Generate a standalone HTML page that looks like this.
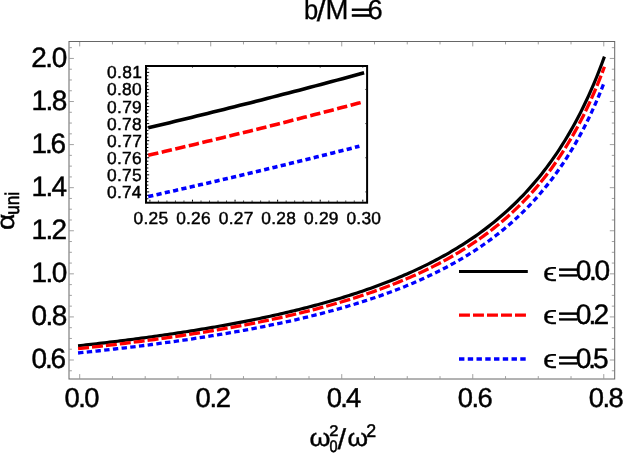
<!DOCTYPE html>
<html lang="en"><head><meta charset="utf-8"><title>b/M=6</title>
<style>html,body{margin:0;padding:0;background:#fff;}body{width:623px;height:454px;overflow:hidden;}svg{display:block;will-change:transform;}text{font-family:"Liberation Sans",sans-serif;fill:#000;text-rendering:geometricPrecision;}</style></head><body>
<svg width="623" height="454" viewBox="0 0 623 454">
<rect width="623" height="454" fill="#fff"/>
<g stroke="#666" stroke-width="1" fill="none">
<rect x="69.0" y="41.5" width="545.7" height="337.5"/>
</g>
<path d="M79.70,378.5v-4.4M79.70,42.0v4.4M112.46,378.5v-2.4M112.46,42.0v2.4M145.21,378.5v-2.4M145.21,42.0v2.4M177.97,378.5v-2.4M177.97,42.0v2.4M210.72,378.5v-4.4M210.72,42.0v4.4M243.48,378.5v-2.4M243.48,42.0v2.4M276.23,378.5v-2.4M276.23,42.0v2.4M308.99,378.5v-2.4M308.99,42.0v2.4M341.74,378.5v-4.4M341.74,42.0v4.4M374.50,378.5v-2.4M374.50,42.0v2.4M407.25,378.5v-2.4M407.25,42.0v2.4M440.01,378.5v-2.4M440.01,42.0v2.4M472.76,378.5v-4.4M472.76,42.0v4.4M505.52,378.5v-2.4M505.52,42.0v2.4M538.27,378.5v-2.4M538.27,42.0v2.4M571.03,378.5v-2.4M571.03,42.0v2.4M603.78,378.5v-4.4M603.78,42.0v4.4M69.5,370.77h2.4M614.2,370.77h-2.4M69.5,360.00h4.4M614.2,360.00h-4.4M69.5,349.23h2.4M614.2,349.23h-2.4M69.5,338.46h2.4M614.2,338.46h-2.4M69.5,327.69h2.4M614.2,327.69h-2.4M69.5,316.92h4.4M614.2,316.92h-4.4M69.5,306.15h2.4M614.2,306.15h-2.4M69.5,295.38h2.4M614.2,295.38h-2.4M69.5,284.61h2.4M614.2,284.61h-2.4M69.5,273.84h4.4M614.2,273.84h-4.4M69.5,263.07h2.4M614.2,263.07h-2.4M69.5,252.30h2.4M614.2,252.30h-2.4M69.5,241.53h2.4M614.2,241.53h-2.4M69.5,230.76h4.4M614.2,230.76h-4.4M69.5,219.99h2.4M614.2,219.99h-2.4M69.5,209.22h2.4M614.2,209.22h-2.4M69.5,198.45h2.4M614.2,198.45h-2.4M69.5,187.68h4.4M614.2,187.68h-4.4M69.5,176.91h2.4M614.2,176.91h-2.4M69.5,166.14h2.4M614.2,166.14h-2.4M69.5,155.37h2.4M614.2,155.37h-2.4M69.5,144.60h4.4M614.2,144.60h-4.4M69.5,133.83h2.4M614.2,133.83h-2.4M69.5,123.06h2.4M614.2,123.06h-2.4M69.5,112.29h2.4M614.2,112.29h-2.4M69.5,101.52h4.4M614.2,101.52h-4.4M69.5,90.75h2.4M614.2,90.75h-2.4M69.5,79.98h2.4M614.2,79.98h-2.4M69.5,69.21h2.4M614.2,69.21h-2.4M69.5,58.44h4.4M614.2,58.44h-4.4M69.5,47.67h2.4M614.2,47.67h-2.4" stroke="#666" stroke-width="0.62" fill="none"/>
<g fill="none" stroke-width="3.3" stroke-linejoin="round">
<path d="M78.06,345.82 L80.69,345.53 L83.33,345.24 L85.96,344.95 L88.59,344.65 L91.22,344.35 L93.85,344.05 L96.49,343.75 L99.12,343.45 L101.75,343.14 L104.38,342.83 L107.01,342.52 L109.64,342.20 L112.28,341.88 L114.91,341.56 L117.54,341.24 L120.17,340.91 L122.80,340.58 L125.44,340.25 L128.07,339.92 L130.70,339.58 L133.33,339.24 L135.96,338.89 L138.60,338.55 L141.23,338.20 L143.86,337.84 L146.49,337.49 L149.12,337.13 L151.75,336.77 L154.39,336.40 L157.02,336.03 L159.65,335.66 L162.28,335.28 L164.91,334.90 L167.55,334.52 L170.18,334.13 L172.81,333.74 L175.44,333.35 L178.07,332.95 L180.70,332.55 L183.34,332.15 L185.97,331.74 L188.60,331.32 L191.23,330.91 L193.86,330.49 L196.50,330.06 L199.13,329.63 L201.76,329.20 L204.39,328.76 L207.02,328.32 L209.66,327.87 L212.29,327.42 L214.92,326.97 L217.55,326.50 L220.18,326.04 L222.81,325.57 L225.45,325.10 L228.08,324.62 L230.71,324.13 L233.34,323.64 L235.97,323.15 L238.61,322.65 L241.24,322.14 L243.87,321.63 L246.50,321.11 L249.13,320.59 L251.77,320.06 L254.40,319.53 L257.03,318.99 L259.66,318.45 L262.29,317.89 L264.92,317.34 L267.56,316.77 L270.19,316.20 L272.82,315.63 L275.45,315.04 L278.08,314.45 L280.72,313.86 L283.35,313.25 L285.98,312.64 L288.61,312.02 L291.24,311.40 L293.88,310.76 L296.51,310.12 L299.14,309.47 L301.77,308.82 L304.40,308.15 L307.03,307.48 L309.67,306.80 L312.30,306.11 L314.93,305.41 L317.56,304.71 L320.19,303.99 L322.83,303.27 L325.46,302.53 L328.09,301.79 L330.72,301.04 L333.35,300.27 L335.98,299.50 L338.62,298.72 L341.25,297.92 L343.88,297.12 L346.51,296.30 L349.14,295.48 L351.78,294.64 L354.41,293.79 L357.04,292.93 L359.67,292.05 L362.30,291.17 L364.94,290.27 L367.57,289.36 L370.20,288.43 L372.83,287.49 L375.46,286.54 L378.09,285.58 L380.73,284.60 L383.36,283.60 L385.99,282.59 L388.62,281.57 L391.25,280.53 L393.89,279.47 L396.52,278.40 L399.15,277.31 L401.78,276.20 L404.41,275.07 L407.05,273.93 L409.68,272.77 L412.31,271.59 L414.94,270.39 L417.57,269.17 L420.20,267.93 L422.84,266.67 L425.47,265.38 L428.10,264.08 L430.73,262.75 L433.36,261.40 L436.00,260.03 L438.63,258.63 L441.26,257.20 L443.89,255.75 L446.52,254.28 L449.16,252.77 L451.79,251.24 L454.42,249.68 L457.05,248.09 L459.68,246.47 L462.31,244.82 L464.95,243.14 L467.58,241.42 L470.21,239.67 L472.84,237.88 L475.47,236.06 L478.11,234.20 L480.74,232.30 L483.37,230.37 L486.00,228.39 L488.63,226.37 L491.26,224.30 L493.90,222.19 L496.53,220.03 L499.16,217.83 L501.79,215.57 L504.42,213.27 L507.06,210.91 L509.69,208.49 L512.32,206.02 L514.95,203.49 L517.58,200.90 L520.22,198.24 L522.85,195.52 L525.48,192.73 L528.11,189.87 L530.74,186.94 L533.37,183.92 L536.01,180.83 L538.64,177.66 L541.27,174.40 L543.90,171.05 L546.53,167.60 L549.17,164.06 L551.80,160.41 L554.43,156.66 L557.06,152.80 L559.69,148.83 L562.33,144.73 L564.96,140.50 L567.59,136.14 L570.22,131.64 L572.85,127.00 L575.48,122.20 L578.12,117.24 L580.75,112.11 L583.38,106.81 L586.01,101.31 L588.64,95.62 L591.28,89.72 L593.91,83.60 L596.54,77.24 L599.17,70.64 L601.80,63.78 L604.44,56.64" stroke="#000" stroke-width="3.2"/>
<path d="M78.06,348.69 L80.69,348.41 L83.33,348.12 L85.96,347.84 L88.59,347.55 L91.22,347.26 L93.85,346.97 L96.49,346.67 L99.12,346.37 L101.75,346.07 L104.38,345.77 L107.01,345.47 L109.64,345.16 L112.28,344.85 L114.91,344.54 L117.54,344.22 L120.17,343.90 L122.80,343.58 L125.44,343.26 L128.07,342.93 L130.70,342.60 L133.33,342.27 L135.96,341.93 L138.60,341.60 L141.23,341.26 L143.86,340.91 L146.49,340.56 L149.12,340.21 L151.75,339.86 L154.39,339.50 L157.02,339.14 L159.65,338.78 L162.28,338.41 L164.91,338.04 L167.55,337.67 L170.18,337.29 L172.81,336.91 L175.44,336.53 L178.07,336.14 L180.70,335.75 L183.34,335.36 L185.97,334.96 L188.60,334.55 L191.23,334.15 L193.86,333.74 L196.50,333.32 L199.13,332.90 L201.76,332.48 L204.39,332.05 L207.02,331.62 L209.66,331.19 L212.29,330.75 L214.92,330.30 L217.55,329.86 L220.18,329.40 L222.81,328.94 L225.45,328.48 L228.08,328.01 L230.71,327.54 L233.34,327.06 L235.97,326.58 L238.61,326.09 L241.24,325.60 L243.87,325.10 L246.50,324.60 L249.13,324.09 L251.77,323.58 L254.40,323.05 L257.03,322.53 L259.66,322.00 L262.29,321.46 L264.92,320.92 L267.56,320.37 L270.19,319.81 L272.82,319.25 L275.45,318.68 L278.08,318.10 L280.72,317.52 L283.35,316.93 L285.98,316.34 L288.61,315.73 L291.24,315.12 L293.88,314.51 L296.51,313.88 L299.14,313.25 L301.77,312.61 L304.40,311.96 L307.03,311.31 L309.67,310.64 L312.30,309.97 L314.93,309.29 L317.56,308.60 L320.19,307.91 L322.83,307.20 L325.46,306.48 L328.09,305.76 L330.72,305.02 L333.35,304.28 L335.98,303.53 L338.62,302.76 L341.25,301.99 L343.88,301.20 L346.51,300.41 L349.14,299.60 L351.78,298.78 L354.41,297.96 L357.04,297.12 L359.67,296.26 L362.30,295.40 L364.94,294.52 L367.57,293.64 L370.20,292.73 L372.83,291.82 L375.46,290.89 L378.09,289.95 L380.73,289.00 L383.36,288.03 L385.99,287.04 L388.62,286.04 L391.25,285.03 L393.89,284.00 L396.52,282.95 L399.15,281.89 L401.78,280.81 L404.41,279.71 L407.05,278.59 L409.68,277.46 L412.31,276.31 L414.94,275.14 L417.57,273.95 L420.20,272.74 L422.84,271.51 L425.47,270.26 L428.10,268.99 L430.73,267.69 L433.36,266.38 L436.00,265.04 L438.63,263.67 L441.26,262.29 L443.89,260.87 L446.52,259.43 L449.16,257.97 L451.79,256.47 L454.42,254.95 L457.05,253.40 L459.68,251.82 L462.31,250.21 L464.95,248.57 L467.58,246.90 L470.21,245.19 L472.84,243.45 L475.47,241.67 L478.11,239.86 L480.74,238.01 L483.37,236.12 L486.00,234.19 L488.63,232.22 L491.26,230.21 L493.90,228.15 L496.53,226.05 L499.16,223.90 L501.79,221.70 L504.42,219.45 L507.06,217.15 L509.69,214.79 L512.32,212.39 L514.95,209.92 L517.58,207.39 L520.22,204.80 L522.85,202.15 L525.48,199.43 L528.11,196.64 L530.74,193.77 L533.37,190.84 L536.01,187.82 L538.64,184.73 L541.27,181.55 L543.90,178.28 L546.53,174.92 L549.17,171.47 L551.80,167.92 L554.43,164.26 L557.06,160.50 L559.69,156.62 L562.33,152.62 L564.96,148.50 L567.59,144.25 L570.22,139.87 L572.85,135.34 L575.48,130.66 L578.12,125.82 L580.75,120.82 L583.38,115.65 L586.01,110.29 L588.64,104.74 L591.28,98.99 L593.91,93.02 L596.54,86.82 L599.17,80.39 L601.80,73.69 L604.44,66.73" stroke="#f00" stroke-dasharray="11 3"/>
<path d="M78.06,352.99 L80.69,352.72 L83.33,352.45 L85.96,352.17 L88.59,351.89 L91.22,351.61 L93.85,351.33 L96.49,351.05 L99.12,350.76 L101.75,350.48 L104.38,350.18 L107.01,349.89 L109.64,349.60 L112.28,349.30 L114.91,349.00 L117.54,348.69 L120.17,348.39 L122.80,348.08 L125.44,347.77 L128.07,347.45 L130.70,347.14 L133.33,346.82 L135.96,346.50 L138.60,346.17 L141.23,345.84 L143.86,345.51 L146.49,345.18 L149.12,344.84 L151.75,344.50 L154.39,344.16 L157.02,343.81 L159.65,343.46 L162.28,343.11 L164.91,342.75 L167.55,342.40 L170.18,342.03 L172.81,341.67 L175.44,341.30 L178.07,340.93 L180.70,340.55 L183.34,340.17 L185.97,339.79 L188.60,339.40 L191.23,339.01 L193.86,338.61 L196.50,338.22 L199.13,337.81 L201.76,337.41 L204.39,337.00 L207.02,336.58 L209.66,336.16 L212.29,335.74 L214.92,335.31 L217.55,334.88 L220.18,334.44 L222.81,334.00 L225.45,333.56 L228.08,333.11 L230.71,332.66 L233.34,332.20 L235.97,331.73 L238.61,331.26 L241.24,330.79 L243.87,330.31 L246.50,329.83 L249.13,329.34 L251.77,328.84 L254.40,328.34 L257.03,327.84 L259.66,327.33 L262.29,326.81 L264.92,326.29 L267.56,325.76 L270.19,325.22 L272.82,324.68 L275.45,324.13 L278.08,323.58 L280.72,323.02 L283.35,322.46 L285.98,321.88 L288.61,321.30 L291.24,320.72 L293.88,320.12 L296.51,319.52 L299.14,318.92 L301.77,318.30 L304.40,317.68 L307.03,317.05 L309.67,316.41 L312.30,315.76 L314.93,315.11 L317.56,314.45 L320.19,313.78 L322.83,313.10 L325.46,312.41 L328.09,311.71 L330.72,311.00 L333.35,310.29 L335.98,309.56 L338.62,308.83 L341.25,308.09 L343.88,307.33 L346.51,306.57 L349.14,305.79 L351.78,305.01 L354.41,304.21 L357.04,303.40 L359.67,302.58 L362.30,301.75 L364.94,300.91 L367.57,300.05 L370.20,299.19 L372.83,298.31 L375.46,297.42 L378.09,296.51 L380.73,295.59 L383.36,294.66 L385.99,293.71 L388.62,292.75 L391.25,291.78 L393.89,290.78 L396.52,289.78 L399.15,288.76 L401.78,287.72 L404.41,286.66 L407.05,285.59 L409.68,284.50 L412.31,283.40 L414.94,282.27 L417.57,281.13 L420.20,279.96 L422.84,278.78 L425.47,277.58 L428.10,276.36 L430.73,275.11 L433.36,273.84 L436.00,272.56 L438.63,271.24 L441.26,269.91 L443.89,268.55 L446.52,267.17 L449.16,265.76 L451.79,264.32 L454.42,262.86 L457.05,261.37 L459.68,259.85 L462.31,258.30 L464.95,256.72 L467.58,255.11 L470.21,253.47 L472.84,251.80 L475.47,250.09 L478.11,248.35 L480.74,246.57 L483.37,244.75 L486.00,242.90 L488.63,241.00 L491.26,239.06 L493.90,237.09 L496.53,235.06 L499.16,233.00 L501.79,230.88 L504.42,228.72 L507.06,226.51 L509.69,224.25 L512.32,221.93 L514.95,219.56 L517.58,217.13 L520.22,214.64 L522.85,212.08 L525.48,209.47 L528.11,206.79 L530.74,204.03 L533.37,201.21 L536.01,198.31 L538.64,195.34 L541.27,192.28 L543.90,189.14 L546.53,185.91 L549.17,182.59 L551.80,179.17 L554.43,175.66 L557.06,172.04 L559.69,168.31 L562.33,164.46 L564.96,160.50 L567.59,156.42 L570.22,152.20 L572.85,147.84 L575.48,143.35 L578.12,138.70 L580.75,133.89 L583.38,128.91 L586.01,123.76 L588.64,118.42 L591.28,112.89 L593.91,107.15 L596.54,101.20 L599.17,95.01 L601.80,88.57 L604.44,81.88" stroke="#00f" stroke-dasharray="5.4 3.355"/>
</g>
<rect x="146.0" y="66.0" width="221.10000000000002" height="136.7" fill="#fff" stroke="none"/>
<g fill="none" stroke-width="3.6">
<path d="M148.20,127.80 L153.59,126.52 L158.99,125.23 L164.39,123.94 L169.78,122.64 L175.18,121.34 L180.58,120.03 L185.98,118.72 L191.37,117.41 L196.77,116.09 L202.17,114.76 L207.56,113.44 L212.96,112.10 L218.36,110.77 L223.76,109.42 L229.15,108.08 L234.55,106.73 L239.95,105.37 L245.34,104.01 L250.74,102.64 L256.14,101.27 L261.53,99.90 L266.93,98.52 L272.33,97.13 L277.73,95.74 L283.12,94.35 L288.52,92.95 L293.92,91.55 L299.31,90.14 L304.71,88.72 L310.11,87.30 L315.50,85.88 L320.90,84.45 L326.30,83.01 L331.70,81.57 L337.09,80.13 L342.49,78.68 L347.89,77.22 L353.28,75.76 L358.68,74.30 L364.08,72.82" stroke="#000"/>
<path d="M148.20,155.31 L153.57,154.06 L158.95,152.81 L164.32,151.56 L169.70,150.30 L175.08,149.03 L180.45,147.76 L185.83,146.49 L191.20,145.22 L196.58,143.93 L201.95,142.65 L207.33,141.36 L212.71,140.07 L218.08,138.77 L223.46,137.46 L228.83,136.16 L234.21,134.84 L239.58,133.53 L244.96,132.21 L250.34,130.88 L255.71,129.55 L261.09,128.21 L266.46,126.88 L271.84,125.53 L277.21,124.18 L282.59,122.83 L287.97,121.47 L293.34,120.11 L298.72,118.74 L304.09,117.36 L309.47,115.99 L314.84,114.60 L320.22,113.22 L325.60,111.82 L330.97,110.43 L336.35,109.02 L341.72,107.61 L347.10,106.20 L352.47,104.78 L357.85,103.36 L363.23,101.93" stroke="#f00" stroke-dasharray="10.4 3.5"/>
<path d="M148.20,196.57 L153.48,195.39 L158.76,194.21 L164.04,193.03 L169.32,191.84 L174.60,190.64 L179.88,189.45 L185.16,188.25 L190.44,187.04 L195.72,185.83 L201.00,184.62 L206.28,183.40 L211.56,182.18 L216.84,180.95 L222.12,179.72 L227.40,178.49 L232.68,177.25 L237.96,176.01 L243.24,174.76 L248.52,173.51 L253.80,172.26 L259.08,171.00 L264.36,169.74 L269.63,168.47 L274.91,167.20 L280.19,165.92 L285.47,164.64 L290.75,163.35 L296.03,162.06 L301.31,160.77 L306.59,159.47 L311.87,158.17 L317.15,156.86 L322.43,155.55 L327.71,154.23 L332.99,152.91 L338.27,151.58 L343.55,150.25 L348.83,148.91 L354.11,147.57 L359.39,146.23" stroke="#00f" stroke-dasharray="5.2 3.3"/>
</g>
<rect x="146.0" y="66.0" width="221.10000000000002" height="136.7" fill="none" stroke="#000" stroke-width="2"/>
<path d="M149.90,201.7v-2.0M158.42,201.7v-1.1M166.93,201.7v-1.1M175.45,201.7v-1.1M183.96,201.7v-1.1M192.48,201.7v-2.0M201.00,201.7v-1.1M209.51,201.7v-1.1M218.03,201.7v-1.1M226.54,201.7v-1.1M235.06,201.7v-2.0M243.58,201.7v-1.1M252.09,201.7v-1.1M260.61,201.7v-1.1M269.12,201.7v-1.1M277.64,201.7v-2.0M286.16,201.7v-1.1M294.67,201.7v-1.1M303.19,201.7v-1.1M311.70,201.7v-1.1M320.22,201.7v-2.0M328.74,201.7v-1.1M337.25,201.7v-1.1M345.77,201.7v-1.1M354.28,201.7v-1.1M362.80,201.7v-2.0M147.0,198.75h1.4M147.0,195.34h1.4M147.0,191.92h2.2M147.0,188.50h1.4M147.0,185.09h1.4M147.0,181.67h1.4M147.0,178.26h1.4M147.0,174.84h2.2M147.0,171.42h1.4M147.0,168.01h1.4M147.0,164.59h1.4M147.0,161.18h1.4M147.0,157.76h2.2M147.0,154.34h1.4M147.0,150.93h1.4M147.0,147.51h1.4M147.0,144.10h1.4M147.0,140.68h2.2M147.0,137.26h1.4M147.0,133.85h1.4M147.0,130.43h1.4M147.0,127.02h1.4M147.0,123.60h2.2M147.0,120.18h1.4M147.0,116.77h1.4M147.0,113.35h1.4M147.0,109.94h1.4M147.0,106.52h2.2M147.0,103.10h1.4M147.0,99.69h1.4M147.0,96.27h1.4M147.0,92.86h1.4M147.0,89.44h2.2M147.0,86.02h1.4M147.0,82.61h1.4M147.0,79.19h1.4M147.0,75.78h1.4M147.0,72.36h2.2M147.0,68.94h1.4" stroke="#000" stroke-width="1" fill="none"/>
<path d="M192.48,67.0v0.9M235.06,67.0v0.9M277.64,67.0v0.9M320.22,67.0v0.9M362.80,67.0v0.9M366.1,191.92h-1M366.1,157.76h-1M366.1,123.60h-1M366.1,89.44h-1" stroke="#000" stroke-width="0.6" fill="none"/>
<text x="107.05" y="197.90" font-size="17.37" letter-spacing="0.210"  stroke="#000" stroke-width="0.45">0.74</text>
<text x="107.05" y="180.82" font-size="17.37" letter-spacing="0.284"  stroke="#000" stroke-width="0.45">0.75</text>
<text x="107.05" y="163.74" font-size="17.37" letter-spacing="0.295"  stroke="#000" stroke-width="0.45">0.76</text>
<text x="107.05" y="146.66" font-size="17.37" letter-spacing="0.332"  stroke="#000" stroke-width="0.45">0.77</text>
<text x="107.05" y="129.58" font-size="17.37" letter-spacing="0.292"  stroke="#000" stroke-width="0.45">0.78</text>
<text x="107.05" y="112.50" font-size="17.37" letter-spacing="0.315"  stroke="#000" stroke-width="0.45">0.79</text>
<text x="107.05" y="95.42" font-size="17.37" letter-spacing="0.267"  stroke="#000" stroke-width="0.45">0.80</text>
<text x="107.05" y="77.73" font-size="17.37" letter-spacing="0.324"  stroke="#000" stroke-width="0.45">0.81</text>
<text x="133.60" y="223.78" font-size="17.37" letter-spacing="0.217"  stroke="#000" stroke-width="0.45">0.25</text>
<text x="176.18" y="223.78" font-size="17.37" letter-spacing="0.229"  stroke="#000" stroke-width="0.45">0.26</text>
<text x="218.76" y="223.78" font-size="17.37" letter-spacing="0.265"  stroke="#000" stroke-width="0.45">0.27</text>
<text x="261.34" y="223.78" font-size="17.37" letter-spacing="0.226"  stroke="#000" stroke-width="0.45">0.28</text>
<text x="303.92" y="223.78" font-size="17.37" letter-spacing="0.248"  stroke="#000" stroke-width="0.45">0.29</text>
<text x="346.50" y="223.78" font-size="17.37" letter-spacing="0.200"  stroke="#000" stroke-width="0.45">0.30</text>
<text x="31.53" y="368.07" font-size="27.98" letter-spacing="-2.162"  stroke="#000" stroke-width="0.45">0.6</text>
<text x="31.53" y="324.99" font-size="27.98" letter-spacing="-1.519"  stroke="#000" stroke-width="0.45">0.8</text>
<text x="31.59" y="281.91" font-size="27.98" letter-spacing="-1.611"  stroke="#000" stroke-width="0.45">1.0</text>
<text x="31.59" y="238.83" font-size="27.98" letter-spacing="-1.754"  stroke="#000" stroke-width="0.45">1.2</text>
<text x="31.59" y="195.76" font-size="27.98" letter-spacing="-1.748"  stroke="#000" stroke-width="0.45">1.4</text>
<text x="31.59" y="152.68" font-size="27.98" letter-spacing="-2.193"  stroke="#000" stroke-width="0.45">1.6</text>
<text x="31.59" y="109.59" font-size="27.98" letter-spacing="-1.549"  stroke="#000" stroke-width="0.45">1.8</text>
<text x="31.22" y="66.52" font-size="27.98" letter-spacing="-1.423"  stroke="#000" stroke-width="0.45">2.0</text>
<text x="64.60" y="406.77" font-size="27.40" letter-spacing="-1.549"  stroke="#000" stroke-width="0.45">0.0</text>
<text x="195.62" y="406.77" font-size="27.40" letter-spacing="-1.395"  stroke="#000" stroke-width="0.45">0.2</text>
<text x="326.64" y="406.77" font-size="27.40" letter-spacing="-1.683"  stroke="#000" stroke-width="0.45">0.4</text>
<text x="457.66" y="406.77" font-size="27.40" letter-spacing="-1.482"  stroke="#000" stroke-width="0.45">0.6</text>
<text x="588.68" y="406.77" font-size="27.40" letter-spacing="-1.489"  stroke="#000" stroke-width="0.45">0.8</text>
<text transform="matrix(0.2557 0 0 0.2737 304.00 19.18)" font-size="100"  stroke="#000" stroke-width="1.13">b</text>
<text transform="matrix(0.3131 0 0 0.2928 316.65 21.26)" font-size="100"  stroke="#000" stroke-width="0.99">/</text>
<text transform="matrix(0.2751 0 0 0.2762 325.59 19.15)" font-size="100"  stroke="#000" stroke-width="1.09">M</text>
<text transform="matrix(0.3602 0 0 0.2234 350.69 20.20)" font-size="100"  stroke="#000" stroke-width="4.03">=</text>
<text transform="matrix(0.2731 0 0 0.2768 367.56 19.18)" font-size="100"  stroke="#000" stroke-width="1.09">6</text>
<text transform="matrix(0.2689 0 0 0.2480 309.51 445.76)" font-size="100"  stroke="#000" stroke-width="1.55">ω</text>
<text transform="matrix(0.1646 0 0 0.1532 329.32 435.85)" font-size="100"  stroke="#000" stroke-width="3.15">2</text>
<text transform="matrix(0.1443 0 0 0.1667 329.59 451.59)" font-size="100"  stroke="#000" stroke-width="3.22">0</text>
<text transform="matrix(0.3095 0 0 0.2860 337.45 448.67)" font-size="100"  stroke="#000" stroke-width="1.01">/</text>
<text transform="matrix(0.2632 0 0 0.2480 347.53 445.76)" font-size="100"  stroke="#000" stroke-width="1.57">ω</text>
<text transform="matrix(0.1778 0 0 0.1833 366.16 436.55)" font-size="100"  stroke="#000" stroke-width="2.77">2</text>
<text transform="matrix(0 -0.2838 0.2473 0 14.43 230.02)" font-size="100" stroke="#000" stroke-width="1.70">α</text>
<text transform="matrix(0 -0.1718 0.1981 0 18.83 214.74)" font-size="100" stroke="#000" stroke-width="2.98">uni</text>
<path d="M459,271.4H527.8" stroke="#000" stroke-width="3.0" fill="none"/>
<text transform="matrix(0.3189 0 0 0.2650 543.00 280.55)" font-size="100"  stroke="#000" stroke-width="1.03">ϵ</text>
<text transform="matrix(0.3602 0 0 0.2296 557.74 279.86)" font-size="100"  stroke="#000" stroke-width="2.61">=</text>
<text x="575.63" y="280.38" font-size="28.13" letter-spacing="-2.275"  stroke="#000" stroke-width="0.45">0.0</text>
<path d="M459,315.05H526.2" stroke="#f00" stroke-width="3.3" fill="none" stroke-dasharray="10.95 3.05"/>
<text transform="matrix(0.3189 0 0 0.2650 543.00 324.35)" font-size="100"  stroke="#000" stroke-width="1.03">ϵ</text>
<text transform="matrix(0.3602 0 0 0.2296 557.74 323.66)" font-size="100"  stroke="#000" stroke-width="2.61">=</text>
<text x="575.63" y="324.17" font-size="28.13" letter-spacing="-2.768"  stroke="#000" stroke-width="0.45">0.2</text>
<path d="M459,359.0H526.2" stroke="#00f" stroke-width="3.3" fill="none" stroke-dasharray="5.4 3.355"/>
<text transform="matrix(0.3189 0 0 0.2650 543.00 368.35)" font-size="100"  stroke="#000" stroke-width="1.03">ϵ</text>
<text transform="matrix(0.3602 0 0 0.2296 557.74 367.66)" font-size="100"  stroke="#000" stroke-width="2.61">=</text>
<text x="575.63" y="368.17" font-size="28.13" letter-spacing="-2.984"  stroke="#000" stroke-width="0.45">0.5</text>
</svg></body></html>
